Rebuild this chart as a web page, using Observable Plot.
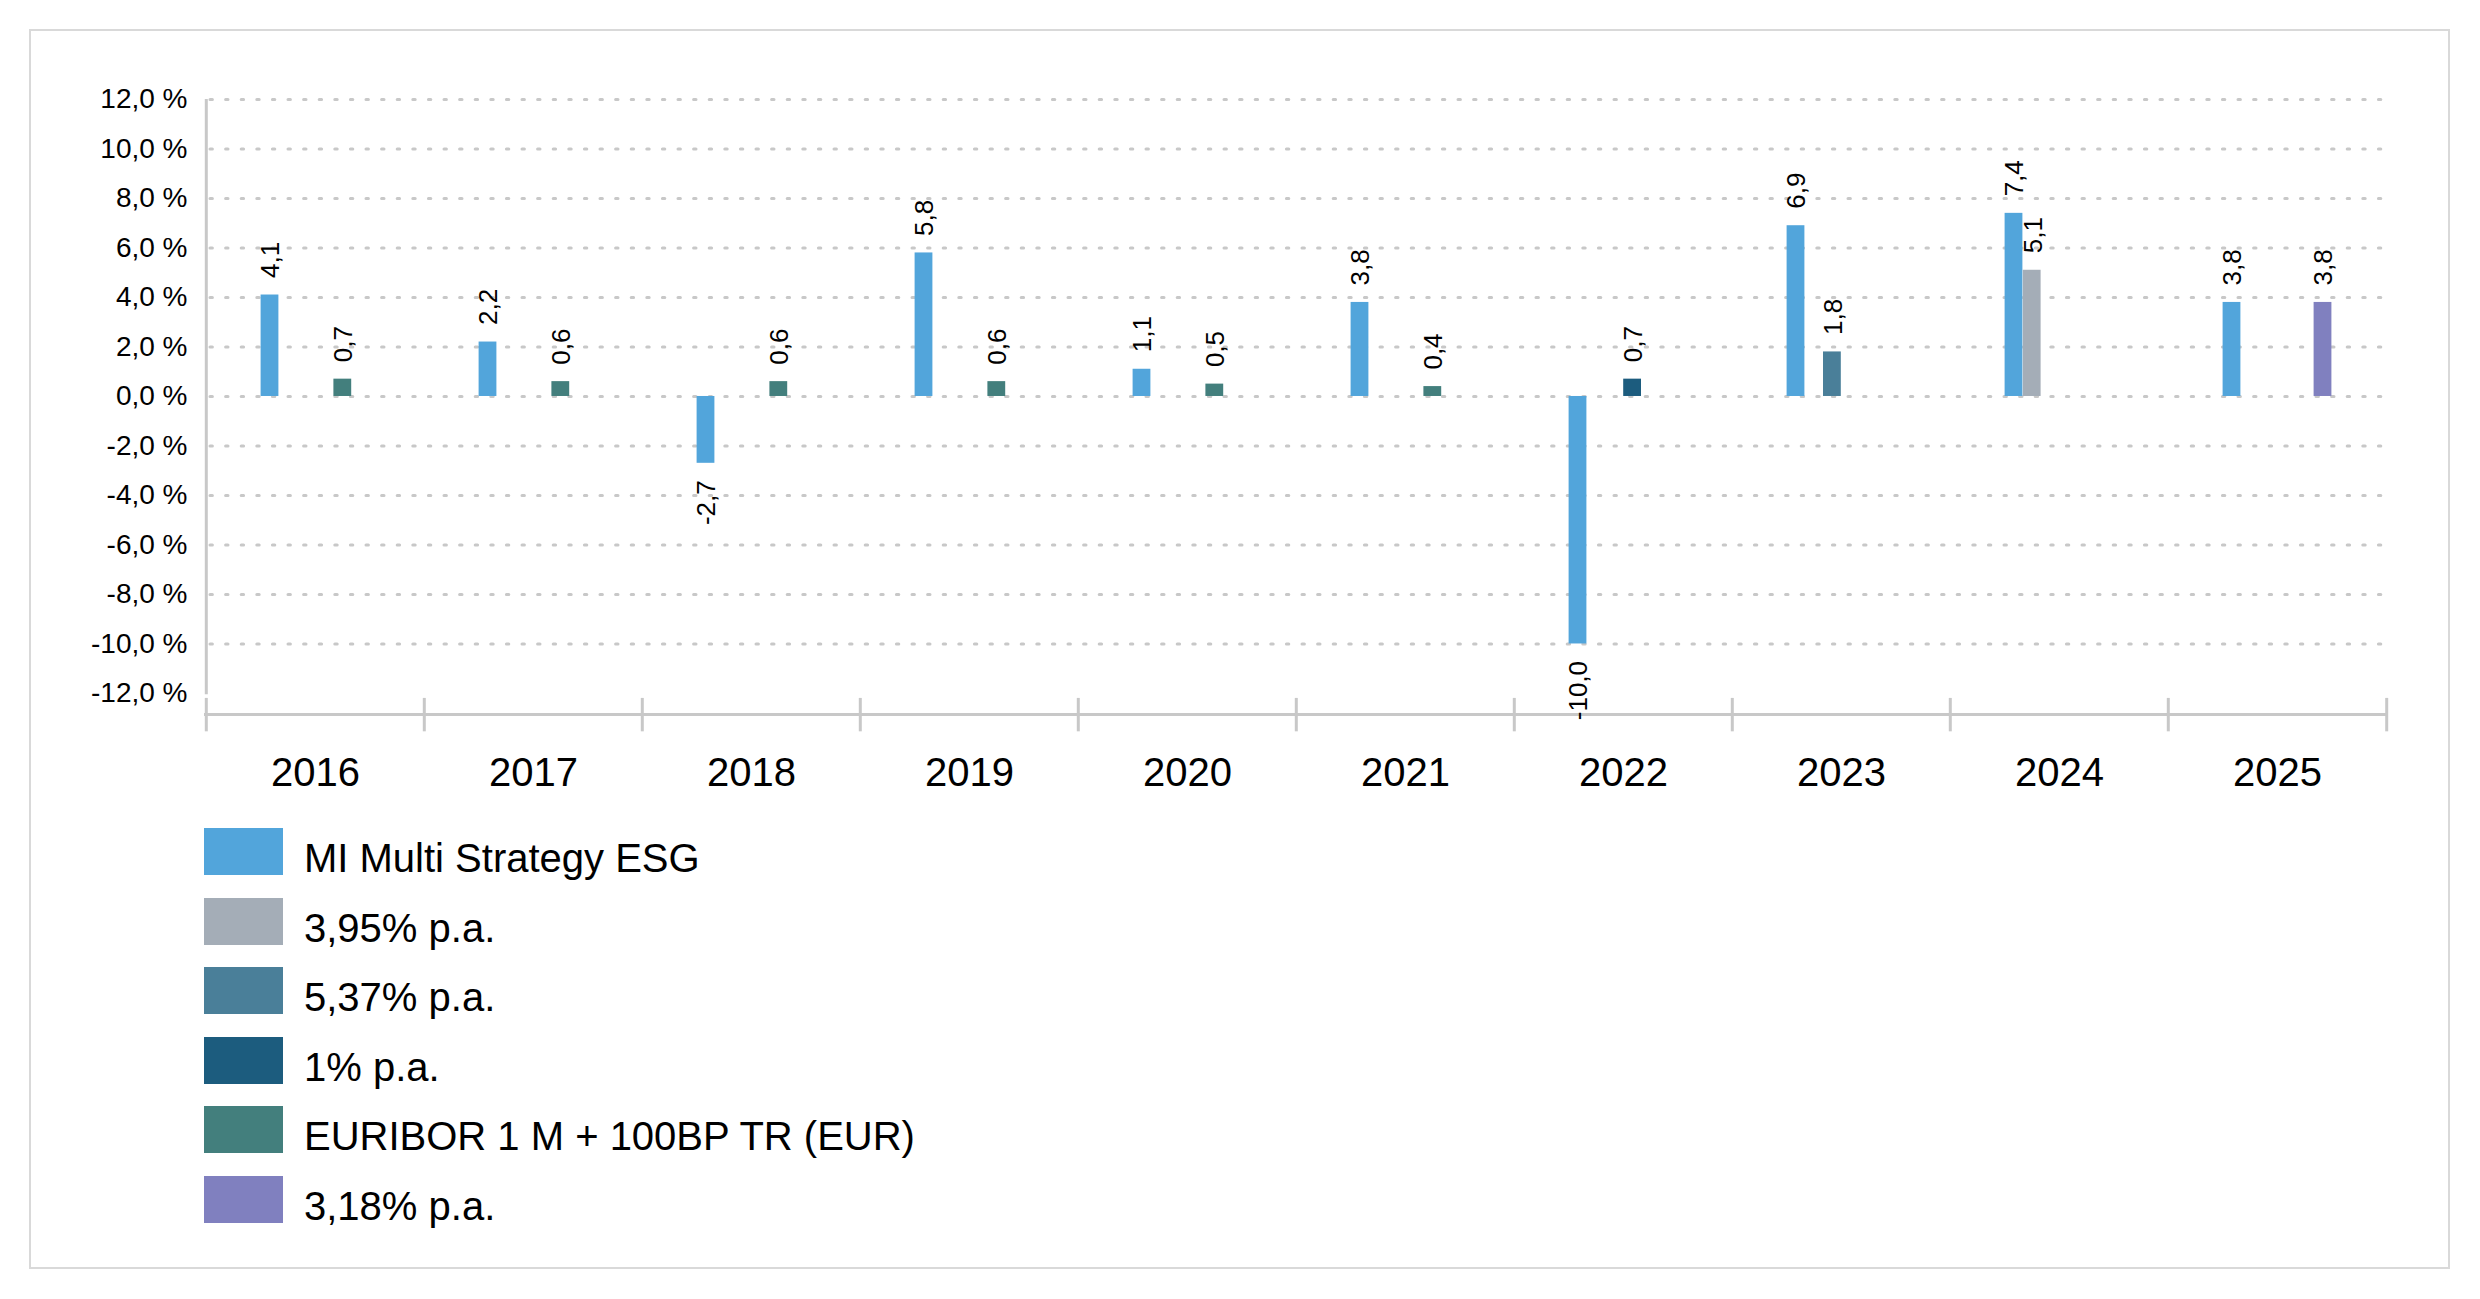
<!DOCTYPE html>
<html>
<head>
<meta charset="utf-8">
<script src="https://cdn.jsdelivr.net/npm/d3@7"></script>
<script src="https://cdn.jsdelivr.net/npm/@observablehq/plot@0.6"></script>
<style>
  html, body { margin: 0; padding: 0; background: #fff; }
  body { width: 2480px; height: 1299px; position: relative; overflow: hidden; font-family: "Liberation Sans", Arial, sans-serif; }
  #frame { position: absolute; left: 29px; top: 29px; width: 2421px; height: 1240px; box-sizing: border-box; border: 2px solid #d9d9d9; }
  #chart { position: absolute; left: 0; top: 0; }
  #legend { position: absolute; left: 204px; top: 828px; }
  .row { position: relative; height: 69.6px; }
  .sw { position: absolute; left: 0; top: 0; width: 79px; height: 47px; }
  .lb { position: absolute; left: 100px; top: 7px; font-size: 40px; line-height: 47px; color: #000; white-space: nowrap; }
</style>
</head>
<body>
<div id="frame"></div>
<div id="chart"></div>
<div id="legend"></div>
<script>
// ---- data ----
const years = ["2016","2017","2018","2019","2020","2021","2022","2023","2024","2025"];
const seriesNames = ["MI Multi Strategy ESG","3,95% p.a.","5,37% p.a.","1% p.a.","EURIBOR 1 M + 100BP TR (EUR)","3,18% p.a."];
const seriesColors = ["#52a5db","#a4adb7","#4a7f99","#1c5c7e","#437f7d","#8080bf"];
const miValues = [4.1, 2.2, -2.7, 5.8, 1.1, 3.8, -10.0, 6.9, 7.4, 3.8];
const s395 = [{year:"2024", value:5.1}];
const s537 = [{year:"2023", value:1.8}];
const s1 = [{year:"2022", value:0.7}];
const euribor = [{year:"2016", value:0.7},{year:"2017", value:0.6},{year:"2018", value:0.6},{year:"2019", value:0.6},{year:"2020", value:0.5},{year:"2021", value:0.4}];
const s318 = [{year:"2025", value:3.8}];
const yTicks = [-12,-10,-8,-6,-4,-2,0,2,4,6,8,10,12];
const gridTicks = [-10,-8,-6,-4,-2,0,2,4,6,8,10,12];

// build table
const seriesData = [
  years.map((y,i) => ({year:y, value:miValues[i]})),
  s395, s537, s1, euribor, s318
];

const W = 2480, H = 800;
const mL = 204, mR = 92, mT = 99, mB = 86;
const yMin = -12.85, yMax = 12;
const bw = (W - mL - mR) / years.length;
const slot = bw / 12;
const gray = "#c8c8c8";
const fmt = v => v.toFixed(1).replace(".", ",");

const marks = [];
// gridlines
marks.push(Plot.ruleY(gridTicks, {stroke: gray, strokeWidth: 3, strokeDasharray: "2.4 13.2", strokeLinecap: "round", insetLeft: 6, insetRight: 4}));
// y axis line
marks.push(Plot.ruleX([years[0]], {dx: -bw/2, y1: 12, y2: -12.05, stroke: gray, strokeWidth: 3}));
// x axis line
marks.push(Plot.ruleY([yMin], {stroke: gray, strokeWidth: 3}));
// category boundary ticks
marks.push(Plot.ruleX(years, {dx: -bw/2, y1: -12.2, y2: -13.55, stroke: gray, strokeWidth: 3}));
marks.push(Plot.ruleX([years[years.length-1]], {dx: bw/2, y1: -12.2, y2: -13.55, stroke: gray, strokeWidth: 3}));

seriesData.forEach((data, i) => {
  const left = bw * 0.25 + i * slot;
  const right = bw - (left + slot);
  marks.push(Plot.barY(data, {x: "year", y: "value", fill: seriesColors[i], insetLeft: left, insetRight: right}));
  const off = left + slot/2 - bw/2 + 1;
  marks.push(Plot.text(data.filter(d => d.value >= 0), {x: "year", y: "value", text: d => fmt(d.value), rotate: -90, textAnchor: "start", lineAnchor: "middle", dx: off, dy: -17, fontSize: 26, fill: "#000"}));
  marks.push(Plot.text(data.filter(d => d.value < 0), {x: "year", y: "value", text: d => fmt(d.value), rotate: -90, textAnchor: "end", lineAnchor: "middle", dx: off, dy: 17, fontSize: 26, fill: "#000"}));
});

// year labels
marks.push(Plot.text(years, {x: d => d, frameAnchor: "bottom", lineAnchor: "middle", dy: 59, fontSize: 40, fill: "#000"}));
// y axis labels
marks.push(Plot.axisY(yTicks, {tickSize: 0, tickPadding: 17, fontSize: 28, tickFormat: d => fmt(d) + " %", color: "#000", label: null}));

const chart = Plot.plot({
  width: W, height: H,
  marginLeft: mL, marginRight: mR, marginTop: mT, marginBottom: mB,
  style: {fontFamily: '"Liberation Sans", Arial, sans-serif', background: "transparent", color: "#000", overflow: "visible"},
  x: {type: "band", domain: years, padding: 0, axis: null},
  y: {domain: [yMin, yMax], axis: null, label: null},
  marks
});
document.getElementById("chart").appendChild(chart);

// legend
const lg = document.getElementById("legend");
seriesNames.forEach((n, i) => {
  const row = document.createElement("div");
  row.className = "row";
  const sw = document.createElement("div");
  sw.className = "sw"; sw.style.background = seriesColors[i];
  const lb = document.createElement("div");
  lb.className = "lb"; lb.textContent = n;
  row.appendChild(sw); row.appendChild(lb);
  lg.appendChild(row);
});
</script>
</body>
</html>
